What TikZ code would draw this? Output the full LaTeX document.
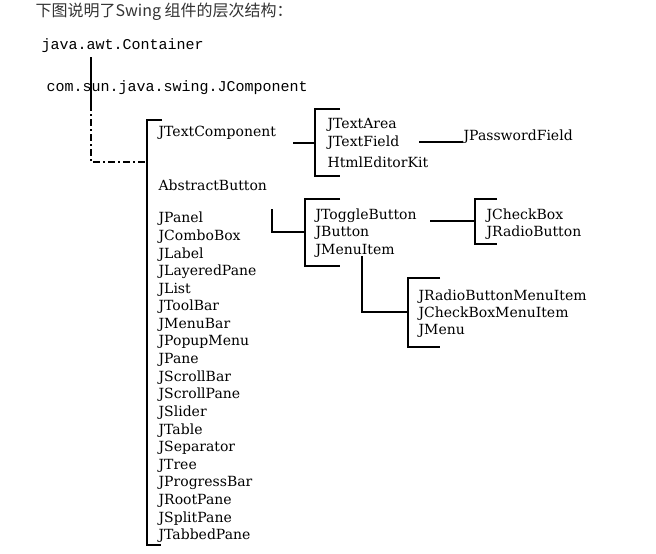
\documentclass[tikz,border=0pt]{standalone}
\usepackage{fontspec}
\setmainfont{DejaVu Serif}
\setmonofont{Liberation Mono}
\newfontfamily\cjkfont{Noto Sans CJK SC}
\usetikzlibrary{positioning}
\tikzset{swingtree/.style={x=1pt,y=-1pt,line width=1.2pt},
  cls/.style={anchor=west,inner sep=0pt,font=\fontsize{14}{16}\selectfont},
  pkg/.style={anchor=west,inner sep=0pt,font=\fontsize{15}{17}\selectfont\ttfamily},
  dashdot/.style={dash pattern=on 7pt off 3pt on 2pt off 3pt}}

\begin{document}
\begin{tikzpicture}[swingtree]
    \useasboundingbox (0,0) rectangle (656,554);
    \node[anchor=west,inner sep=0pt,text=black!80,font=\fontsize{16}{18}\cjkfont] (title) at (35,12) {下图说明了Swing 组件的层次结构：};
    \node[pkg] (cont) at (41,46) {java.awt.Container};
    \node[pkg] (jcomp) at (46,88) {com.sun.java.swing.JComponent};
    \coordinate (cbot) at (91,57);
    \coordinate (cmid) at (91,104);
    \coordinate (main) at (147,162);
    \draw (cbot) -- (cmid); % solid part
    \draw[dashdot] (cmid) |- (main); % dash-dot part
    \draw (162,120) -| (147,545) -- (161,545); % main bracket
    % main list
    \node[cls] (tcomp) at (158,133) {JTextComponent};
    \node[cls] (abtn) at (158,185) {AbstractButton};
    \foreach \name [count=\i from 0] in {JPanel,JComboBox,JLabel,JLayeredPane,JList,JToolBar,JMenuBar,JPopupMenu,JPane,JScrollBar,JScrollPane,JSlider,JTable,JSeparator,JTree,JProgressBar,JRootPane,JSplitPane,JTabbedPane}
      \node[cls] (m\i) at (158,{219+17.6*\i}) {\name};
    % text components
    \node[cls] (tarea) at (327,125) {JTextArea};
    \node[cls] (tfield) at (327,143) {JTextField};
    \node[cls] (html) at (327,162) {HtmlEditorKit};
    \node[cls] (pwd) at (463,137) {JPasswordField};
    \coordinate (tc-out) at (293,143);
    \coordinate (tc-in) at (315,143);
    \draw (tc-out) -- (tc-in);
    \draw (340,109) -| (315,176) -- (340,176); % bracket
    \coordinate (tf-out) at (419,142);
    \draw (tf-out) -- (pwd.west |- tf-out);
    % buttons
    \node[cls] (tog) at (315,216) {JToggleButton};
    \node[cls] (btn) at (315,233) {JButton};
    \node[cls] (mitem) at (315,251) {JMenuItem};
    \coordinate (ab-out) at (272,209);
    \coordinate (ab-in) at (305,232);
    \draw (ab-out) |- (ab-in);
    \draw (340,199) -| (305,266) -- (340,266); % bracket
    \node[cls] (chk) at (486,216) {JCheckBox};
    \node[cls] (radio) at (486,233) {JRadioButton};
    \coordinate (tg-out) at (430,221);
    \coordinate (tg-in) at (475,221);
    \draw (tg-out) -- (tg-in);
    \draw (497,199) -| (475,244) -- (497,244); % bracket
    % menu items
    \node[cls] (rmi) at (418,297) {JRadioButtonMenuItem};
    \node[cls] (cmi) at (418,314) {JCheckBoxMenuItem};
    \node[cls] (menu) at (418,331) {JMenu};
    \coordinate (mi-out) at (362,256);
    \coordinate (mi-in) at (408,312);
    \draw (mi-out) |- (mi-in);
    \draw (440,278) -| (408,347) -- (440,347); % bracket
\end{tikzpicture}
\end{document}
